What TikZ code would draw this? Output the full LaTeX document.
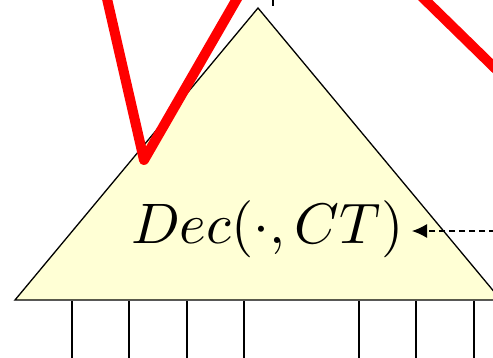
\documentclass[tikz,border=0pt]{standalone}
\usetikzlibrary{arrows.meta}
\definecolor{triFill}{RGB}{255,255,213}
\definecolor{redLine}{RGB}{255,0,0}
\begin{document}
\begin{tikzpicture}[x=1pt,y=-1pt,
  tri/.style={draw=black,line width=1.3pt,fill=triFill,line join=miter},
  redpath/.style={draw=redLine,line width=10pt,line join=round,line cap=round},
  leg/.style={draw=black,line width=1.3pt},
  dasharrow/.style={draw=black,line width=1.2pt,dash pattern=on 6pt off 4pt,-{Latex[length=15pt,width=14pt]}}]
\useasboundingbox (0,0) rectangle (493,357);
% triangle
\coordinate (apex) at (258,8);
\coordinate (bl) at (15,300);
\coordinate (br) at (501,300);
\path[tri] (bl) -- (apex) -- (br) -- cycle;
% small tick above apex
\coordinate (tickA) at (273,-2);
\coordinate (tickB) at (273,6);
\draw[line width=1.2pt] (tickA) -- (tickB);
% red lines
\coordinate (r1) at (105,-10);
\coordinate (r2) at (144,160);
\coordinate (r3) at (242,-10);
\draw[redpath] (r1) -- (r2) -- (r3);
\coordinate (r4) at (415,-10);
\coordinate (r5) at (503,76);
\draw[redpath,line cap=butt] (r4) -- (r5);
% label
\node[inner sep=0pt,anchor=base west] (lbl) at (131,243) {\resizebox{272pt}{!}{$Dec(\cdot,CT)$}};
% dashed arrow
\coordinate (arrS) at (495,231);
\coordinate (arrT) at (412,231);
\draw[dasharrow] (arrS) -- (arrT);
% legs
\foreach \x [count=\i] in {72,129,187,244,359,416,474}{
  \coordinate (lt\i) at (\x,301);
  \coordinate (lb\i) at (\x,360);
  \draw[leg] (lt\i) -- (lb\i);
}
\end{tikzpicture}
\end{document}
